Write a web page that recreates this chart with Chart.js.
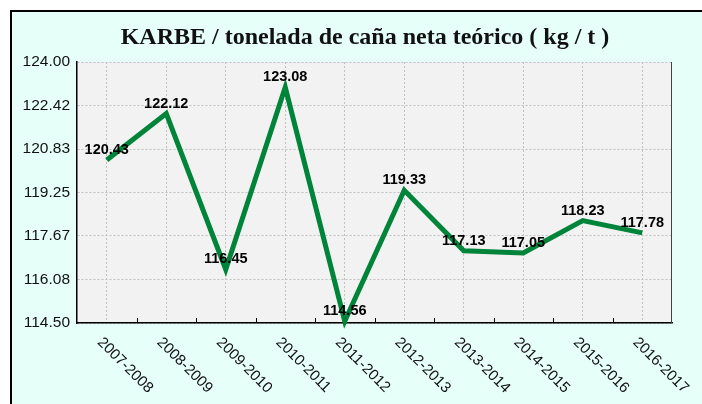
<!DOCTYPE html>
<html>
<head>
<meta charset="utf-8">
<script src="https://cdn.jsdelivr.net/npm/chart.js@4.4.0/dist/chart.umd.min.js"></script>
<style>
  html, body { margin: 0; padding: 0; background: #fff; }
  #wrap { width: 702px; height: 404px; }
</style>
</head>
<body>
<div id="wrap"><canvas id="chart" width="702" height="404"></canvas></div>
<script>
const title = 'KARBE / tonelada de caña neta teórico ( kg / t )';
const seasons = ['2007-2008', '2008-2009', '2009-2010', '2010-2011', '2011-2012',
  '2012-2013', '2013-2014', '2014-2015', '2015-2016', '2016-2017'];
const karbe = [120.43, 122.12, 116.45, 123.08, 114.56, 119.33, 117.13, 117.05, 118.23, 117.78];
const yTicks = [114.50, 116.08, 117.67, 119.25, 120.83, 122.42, 124.00];

// background box, title, rotated labels, value labels
const decor = {
  id: 'decor',
  beforeDraw(chart) {
    const ctx = chart.ctx;
    ctx.save();
    ctx.fillStyle = '#ffffff';
    ctx.fillRect(0, 0, chart.width, chart.height);
    ctx.fillStyle = '#e6fff8';
    ctx.fillRect(10, 10, chart.width - 10, chart.height - 10);
    ctx.strokeStyle = '#000';
    ctx.lineWidth = 2;
    ctx.beginPath();
    ctx.moveTo(11, chart.height);
    ctx.lineTo(11, 11);
    ctx.lineTo(chart.width, 11);
    ctx.stroke();
    const a = chart.chartArea;
    ctx.fillStyle = '#f2f2f2';
    ctx.fillRect(a.left, a.top, a.right - a.left, a.bottom - a.top);
    ctx.fillStyle = '#111';
    ctx.font = 'bold 24px "Liberation Serif", serif';
    ctx.textAlign = 'center';
    ctx.textBaseline = 'alphabetic';
    ctx.fillText(title, 365, 44);
    ctx.restore();
  },
  afterDraw(chart) {
    const ctx = chart.ctx;
    const a = chart.chartArea;
    const x = chart.scales.x;
    ctx.save();
    // right edge of plot
    ctx.strokeStyle = '#444';
    ctx.lineWidth = 1;
    ctx.beginPath();
    ctx.moveTo(a.right - 0.5, a.top);
    ctx.lineTo(a.right - 0.5, a.bottom);
    ctx.stroke();
    // small tick marks between categories
    ctx.strokeStyle = '#000';
    for (let i = 0; i < seasons.length - 1; i++) {
      const px = Math.round((x.getPixelForValue(i) + x.getPixelForValue(i + 1)) / 2) + 0.5;
      ctx.beginPath();
      ctx.moveTo(px, a.bottom);
      ctx.lineTo(px, a.bottom - 5);
      ctx.stroke();
    }
    // rotated category labels
    ctx.fillStyle = '#111';
    ctx.font = '15px "Liberation Sans", Arial, sans-serif';
    ctx.textAlign = 'left';
    ctx.textBaseline = 'middle';
    seasons.forEach((s, i) => {
      const px = x.getPixelForValue(i);
      ctx.save();
      ctx.translate(px - 7, a.bottom + 17);
      ctx.rotate(Math.PI / 4);
      ctx.fillText(s, 0, 0);
      ctx.restore();
    });
    ctx.restore();
  },
  afterDatasetsDraw(chart) {
    const ctx = chart.ctx;
    const meta = chart.getDatasetMeta(0);
    ctx.save();
    ctx.fillStyle = '#000';
    ctx.font = 'bold 14.5px "Liberation Sans", Arial, sans-serif';
    ctx.textAlign = 'center';
    ctx.textBaseline = 'middle';
    meta.data.forEach((pt, i) => {
      ctx.fillText(karbe[i].toFixed(2), pt.x, pt.y - 10);
    });
    ctx.restore();
  }
};

new Chart(document.getElementById('chart'), {
  type: 'line',
  data: {
    labels: seasons,
    datasets: [{
      data: karbe,
      borderColor: '#00843a',
      borderWidth: 5,
      tension: 0,
      pointRadius: 0,
      fill: false,
      clip: false
    }]
  },
  options: {
    responsive: false,
    animation: false,
    layout: { padding: { left: 0, right: 30, top: 62, bottom: 0 } },
    plugins: {
      legend: { display: false },
      tooltip: { enabled: false },
      title: { display: false }
    },
    scales: {
      x: {
        offset: true,
        afterFit: s => { s.height = 81; },
        ticks: { display: false },
        grid: {
          offset: false,
          color: '#c0c0c0',
          drawTicks: false
        },
        border: { display: true, color: '#000', width: 1.5, dash: [2, 2] }
      },
      y: {
        min: 114.5,
        max: 124,
        afterFit: s => { s.width = 77; },
        afterBuildTicks: s => { s.ticks = yTicks.map(v => ({ value: v })); },
        ticks: {
          padding: 7,
          color: '#111',
          font: { family: '"Liberation Sans", Arial, sans-serif', size: 15.5 },
          callback: v => Number(v).toFixed(2)
        },
        grid: {
          color: '#c0c0c0',
          drawTicks: false
        },
        border: { display: true, color: '#000', width: 1.5, dash: [2, 2] }
      }
    }
  },
  plugins: [decor]
});
</script>
</body>
</html>
